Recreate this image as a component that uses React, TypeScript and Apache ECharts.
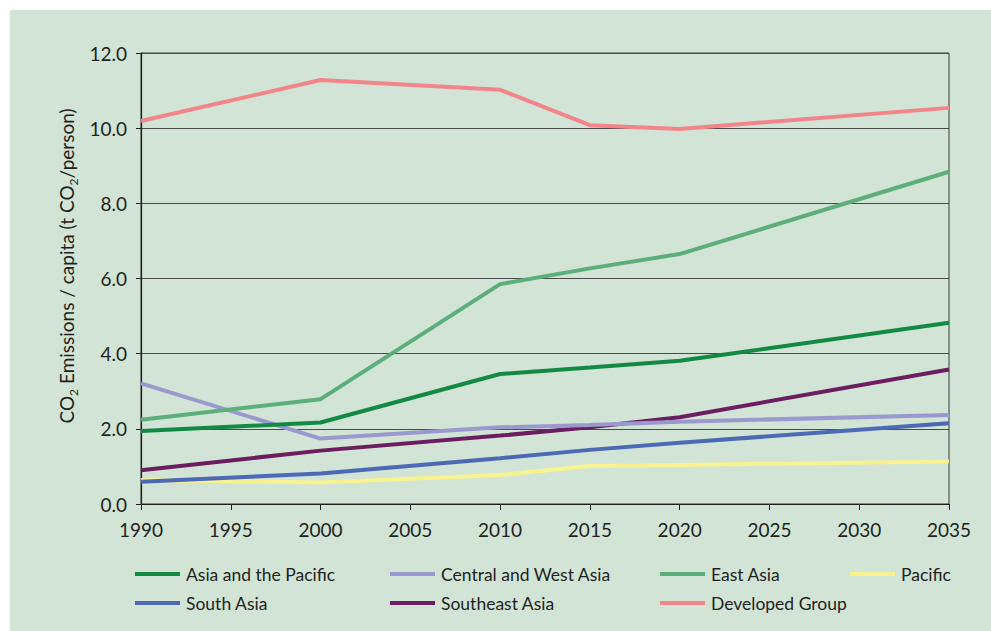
import React, { useEffect, useRef } from "react";
import * as echarts from "echarts";

const years = [1990, 2000, 2010, 2015, 2020, 2035];
const seriesNames = [
  "Asia and the Pacific",
  "Central and West Asia",
  "East Asia",
  "Pacific",
  "South Asia",
  "Southeast Asia",
  "Developed Group",
];
const asiaPacific = [1.94, 2.17, 3.46, 3.63, 3.81, 4.82];
const centralWestAsia = [3.21, 1.74, 2.04, 2.1, 2.19, 2.37];
const eastAsia = [2.24, 2.79, 5.85, 6.27, 6.65, 8.84];
const pacific = [0.64, 0.57, 0.77, 1.01, 1.04, 1.13];
const southAsia = [0.59, 0.81, 1.22, 1.44, 1.63, 2.15];
const southeastAsia = [0.9, 1.42, 1.82, 2.04, 2.31, 3.58];
const developedGroup = [10.19, 11.28, 11.02, 10.08, 9.98, 10.54];

const seriesValues = [
  asiaPacific,
  centralWestAsia,
  eastAsia,
  pacific,
  southAsia,
  southeastAsia,
  developedGroup,
];
const colors = [
  "#138a44",
  "#9a98cf",
  "#5cae7a",
  "#f8f28f",
  "#4b69b5",
  "#6b1d5f",
  "#f2858a",
];
// legend placement (left, top) for each series
const legendPos: [number, number][] = [
  [135, 565],
  [390, 565],
  [660, 565],
  [850, 565],
  [135, 594],
  [390, 594],
  [660, 594],
];

const FONT = "Lato, 'Open Sans', sans-serif";

export default function App() {
  const ref = useRef<HTMLDivElement>(null);
  useEffect(() => {
    if (!ref.current) return;
    const chart = echarts.init(ref.current, undefined, { renderer: "svg" });
    const drawOrder = [3, 4, 5, 1, 0, 2, 6];
    chart.setOption({
      animation: false,
      backgroundColor: "transparent",
      textStyle: { fontFamily: FONT },
      grid: {
        left: 141,
        right: 42,
        top: 53,
        bottom: 127,
        show: true,
        borderColor: "#3a3a3a",
        borderWidth: 1,
        backgroundColor: "transparent",
      },
      legend: seriesNames.map((n, i) => ({
        data: [n],
        left: legendPos[i][0],
        top: legendPos[i][1],
        padding: 0,
        icon: "rect",
        itemWidth: 45,
        itemHeight: 4,
        selectedMode: false,
        textStyle: { fontFamily: FONT, fontSize: 17.5, color: "#231f20", padding: [0, 0, 0, 1] },
      })),
      xAxis: {
        type: "value",
        min: 1990,
        max: 2035,
        interval: 5,
        axisLine: { show: true, lineStyle: { color: "#231f20", width: 1.2 } },
        axisTick: { show: true, length: 6, lineStyle: { color: "#231f20" } },
        axisLabel: {
          color: "#231f20",
          fontSize: 19,
          fontFamily: FONT,
          margin: 16,
          formatter: (v: number) => String(v),
        },
        splitLine: { show: false },
      },
      yAxis: {
        type: "value",
        min: 0,
        max: 12,
        interval: 2,
        axisLine: { show: true, lineStyle: { color: "#231f20", width: 1.2 } },
        axisTick: { show: true, length: 5, lineStyle: { color: "#231f20" } },
        axisLabel: {
          color: "#231f20",
          fontSize: 19,
          fontFamily: FONT,
          margin: 14,
          formatter: (v: number) => v.toFixed(1),
        },
        splitLine: { show: true, lineStyle: { color: "#4a4a4a", width: 1.2 } },
      },
      graphic: [
        {
          type: "text",
          x: 66,
          y: 266,
          rotation: Math.PI / 2,
          style: {
            text: "CO{sub|2} Emissions / capita (t CO{sub|2}/person)",
            fontFamily: FONT,
            fontSize: 19,
            fill: "#231f20",
            align: "center",
            verticalAlign: "middle",
            lineHeight: 26,
            rich: {
              sub: {
                fontFamily: FONT,
                fontSize: 12,
                lineHeight: 12,
                verticalAlign: "bottom",
                fill: "#231f20",
              },
            },
          },
        },
      ],
      series: drawOrder.map((i) => ({
        name: seriesNames[i],
        type: "line",
        symbol: "none",
        data: years.map((y, k) => [y, seriesValues[i][k]]),
        lineStyle: { color: colors[i], width: 4 },
        itemStyle: { color: colors[i] },
      })),
    });
    return () => chart.dispose();
  }, []);
  return (
    <div
      style={{
        position: "fixed",
        left: 0,
        top: 0,
        width: 991,
        height: 631,
        background: "#ffffff",
      }}
    >
      <div
        style={{
          position: "absolute",
          left: 10,
          top: 10,
          width: 981,
          height: 621,
          background: "#d1e4d5",
        }}
      />
      <div ref={ref} style={{ position: "absolute", left: 0, top: 0, width: 991, height: 631 }} />
    </div>
  );
}
